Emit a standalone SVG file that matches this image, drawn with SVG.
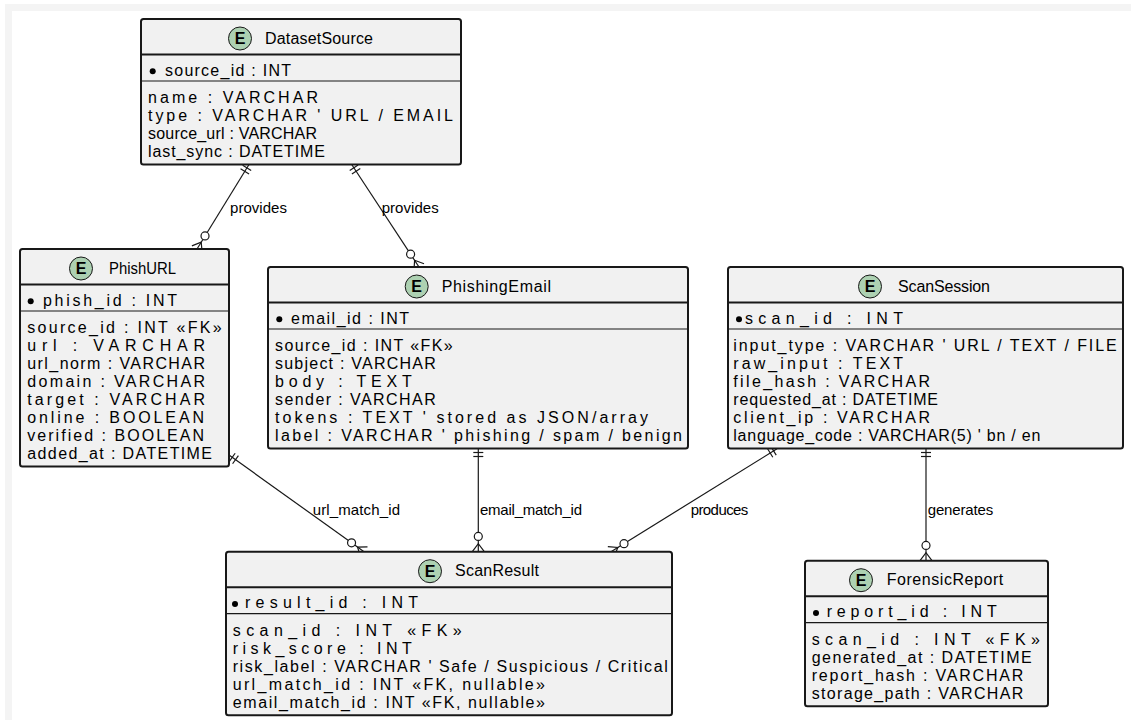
<svg xmlns="http://www.w3.org/2000/svg" width="1131" height="720" viewBox="0 0 1131 720">
<style>
.box{fill:#F1F1F1;stroke:#181818;stroke-width:2}
.div{stroke:#181818;stroke-width:2}
.div2{stroke:#181818;stroke-width:1.2}
.ic{fill:#ADD1B2;stroke:#181818;stroke-width:1}
.E{font-family:"Liberation Sans",Arial,sans-serif;font-size:16px;font-weight:bold;fill:#000;text-anchor:middle}
.t{font-family:"Liberation Sans",Arial,sans-serif;font-size:16px;fill:#000}
.lb{font-family:"Liberation Sans",Arial,sans-serif;font-size:15px;fill:#000}
.pk{fill:#000}
.ln{stroke:#181818;stroke-width:1.2;fill:none}
.cir{fill:#fff;stroke:#181818;stroke-width:1.2}
</style>
<rect x="5" y="4" width="1126" height="716" fill="#F4F4F4"/>
<rect x="12" y="11" width="1119" height="709" fill="#FFFFFF"/>

<g id="connectors">
  <!-- C1 DatasetSource -> PhishURL -->
  <line class="ln" x1="249" y1="164.5" x2="201.19" y2="242.19"/>
  <polyline class="ln" points="202.11,252.14 201.19,242.19 191.89,245.86"/>
  <line class="ln" x1="201.19" y1="242.19" x2="197" y2="249"/>
  <circle class="cir" cx="205.02" cy="235.97" r="4"/>
  <line class="ln" x1="242.64" y1="165.29" x2="251.16" y2="170.53"/>
  <line class="ln" x1="240.55" y1="168.69" x2="249.07" y2="173.93"/>
  <text class="lb" x="230" y="212.7" textLength="57" lengthAdjust="spacing">provides</text>

  <!-- C2 DatasetSource -> PhishingEmail -->
  <line class="ln" x1="351.7" y1="164.5" x2="414.61" y2="260.31"/>
  <polyline class="ln" points="424.02,263.71 414.61,260.31 413.98,270.29"/>
  <line class="ln" x1="414.61" y1="260.31" x2="419" y2="267"/>
  <circle class="cir" cx="410.6" cy="254.21" r="4"/>
  <line class="ln" x1="349.72" y1="170.58" x2="358.08" y2="165.1"/>
  <line class="ln" x1="351.91" y1="173.93" x2="360.27" y2="168.45"/>
  <text class="lb" x="381.7" y="212.7" textLength="57" lengthAdjust="spacing">provides</text>

  <!-- C3 PhishURL -> ScanResult -->
  <line class="ln" x1="229" y1="455" x2="357.5" y2="547.04"/>
  <polyline class="ln" points="367.49,546.82 357.5,547.04 360.51,556.58"/>
  <line class="ln" x1="357.5" y1="547.04" x2="364" y2="551.7"/>
  <circle class="cir" cx="351.56" cy="542.79" r="4"/>
  <line class="ln" x1="229.34" y1="461.4" x2="235.16" y2="453.26"/>
  <line class="ln" x1="232.59" y1="463.73" x2="238.41" y2="455.59"/>
  <text class="lb" x="312.7" y="515" textLength="87.3" lengthAdjust="spacing">url_match_id</text>

  <!-- C4 PhishingEmail -> ScanResult -->
  <line class="ln" x1="478.3" y1="448.5" x2="478.3" y2="551.7"/>
  <polyline class="ln" points="484.3,551.7 478.3,543.7 472.3,551.7"/>
  <circle class="cir" cx="478.3" cy="536.4" r="4"/>
  <line class="ln" x1="473.3" y1="452.5" x2="483.3" y2="452.5"/>
  <line class="ln" x1="473.3" y1="456.5" x2="483.3" y2="456.5"/>
  <text class="lb" x="480" y="515" textLength="102" lengthAdjust="spacing">email_match_id</text>

  <!-- C5 ScanSession -> ScanResult -->
  <line class="ln" x1="777" y1="448.8" x2="617.8" y2="547.48"/>
  <polyline class="ln" points="614.16,556.8 617.8,547.48 607.84,546.6"/>
  <line class="ln" x1="617.8" y1="547.48" x2="611" y2="551.7"/>
  <circle class="cir" cx="624" cy="543.64" r="4"/>
  <line class="ln" x1="770.97" y1="446.66" x2="776.23" y2="455.16"/>
  <line class="ln" x1="767.57" y1="448.77" x2="772.83" y2="457.27"/>
  <text class="lb" x="690.7" y="515" textLength="57.6" lengthAdjust="spacing">produces</text>

  <!-- C6 ScanSession -> ForensicReport -->
  <line class="ln" x1="926" y1="448.5" x2="926" y2="560.7"/>
  <polyline class="ln" points="932,560.7 926,552.7 920,560.7"/>
  <circle class="cir" cx="926" cy="545.4" r="4"/>
  <line class="ln" x1="921" y1="452.5" x2="931" y2="452.5"/>
  <line class="ln" x1="921" y1="456.5" x2="931" y2="456.5"/>
  <text class="lb" x="927.7" y="515" textLength="65.6" lengthAdjust="spacing">generates</text>
</g>

<g id="DatasetSource">
  <rect class="box" x="141" y="19" width="320" height="145.5" rx="2.5"/>
  <line class="div" x1="141" y1="54.5" x2="461" y2="54.5"/>
  <line class="div2" x1="141" y1="81" x2="461" y2="81"/>
  <circle class="ic" cx="240" cy="38.5" r="11.5"/>
  <text class="E" x="240" y="44">E</text>
  <text class="t" x="265" y="43.5" textLength="108" lengthAdjust="spacing">DatasetSource</text>
  <circle class="pk" cx="152.7" cy="71.2" r="3"/>
  <text class="t" x="165" y="75.5" textLength="126" lengthAdjust="spacing">source_id : INT</text>
  <text class="t" x="148" y="103" textLength="170" lengthAdjust="spacing">name : VARCHAR</text>
  <text class="t" x="148" y="121" textLength="305" lengthAdjust="spacing">type : VARCHAR ' URL / EMAIL</text>
  <text class="t" x="148" y="139" textLength="169" lengthAdjust="spacing">source_url : VARCHAR</text>
  <text class="t" x="148" y="157" textLength="177" lengthAdjust="spacing">last_sync : DATETIME</text>
</g>

<g id="PhishURL">
  <rect class="box" x="20" y="249" width="209" height="217.5" rx="2.5"/>
  <line class="div" x1="20" y1="284.5" x2="229" y2="284.5"/>
  <line class="div2" x1="20" y1="311" x2="229" y2="311"/>
  <circle class="ic" cx="81" cy="268.5" r="11.5"/>
  <text class="E" x="81" y="274">E</text>
  <text class="t" x="109" y="273.5" textLength="67" lengthAdjust="spacingAndGlyphs">PhishURL</text>
  <circle class="pk" cx="30.7" cy="301.2" r="3"/>
  <text class="t" x="43" y="305.5" textLength="134" lengthAdjust="spacing">phish_id : INT</text>
  <text class="t" x="27.3" y="333" textLength="194.4" lengthAdjust="spacing">source_id : INT «FK»</text>
  <text class="t" x="27.3" y="351" textLength="177.7" lengthAdjust="spacing">url : VARCHAR</text>
  <text class="t" x="27.3" y="369" textLength="177.7" lengthAdjust="spacing">url_norm : VARCHAR</text>
  <text class="t" x="27.3" y="387" textLength="177.7" lengthAdjust="spacing">domain : VARCHAR</text>
  <text class="t" x="27.3" y="405" textLength="177.7" lengthAdjust="spacing">target : VARCHAR</text>
  <text class="t" x="27.3" y="423" textLength="176.7" lengthAdjust="spacing">online : BOOLEAN</text>
  <text class="t" x="27.3" y="441" textLength="176.7" lengthAdjust="spacing">verified : BOOLEAN</text>
  <text class="t" x="27.3" y="459" textLength="184.7" lengthAdjust="spacing">added_at : DATETIME</text>
</g>

<g id="PhishingEmail">
  <rect class="box" x="268" y="267" width="420" height="181.5" rx="2.5"/>
  <line class="div" x1="268" y1="302.5" x2="688" y2="302.5"/>
  <line class="div2" x1="268" y1="329" x2="688" y2="329"/>
  <circle class="ic" cx="416.7" cy="286.5" r="11.5"/>
  <text class="E" x="416.7" y="292">E</text>
  <text class="t" x="441.7" y="291.5" textLength="109.3" lengthAdjust="spacing">PhishingEmail</text>
  <circle class="pk" cx="279.3" cy="319.2" r="3"/>
  <text class="t" x="291" y="323.5" textLength="118" lengthAdjust="spacing">email_id : INT</text>
  <text class="t" x="275" y="351" textLength="177.7" lengthAdjust="spacing">source_id : INT «FK»</text>
  <text class="t" x="275" y="369" textLength="160.7" lengthAdjust="spacing">subject : VARCHAR</text>
  <text class="t" x="275" y="387" textLength="136.7" lengthAdjust="spacing">body : TEXT</text>
  <text class="t" x="275" y="405" textLength="160.7" lengthAdjust="spacing">sender : VARCHAR</text>
  <text class="t" x="275" y="423" textLength="373" lengthAdjust="spacing">tokens : TEXT ' stored as JSON/array</text>
  <text class="t" x="275" y="441" textLength="407" lengthAdjust="spacing">label : VARCHAR ' phishing / spam / benign</text>
</g>

<g id="ScanSession">
  <rect class="box" x="728" y="267" width="395" height="181.5" rx="2.5"/>
  <line class="div" x1="728" y1="302.5" x2="1123" y2="302.5"/>
  <line class="div2" x1="728" y1="329" x2="1123" y2="329"/>
  <circle class="ic" cx="870" cy="286.5" r="11.5"/>
  <text class="E" x="870" y="292">E</text>
  <text class="t" x="898" y="291.5" textLength="92" lengthAdjust="spacing">ScanSession</text>
  <circle class="pk" cx="739" cy="319.2" r="3"/>
  <text class="t" x="745" y="323.5" textLength="158" lengthAdjust="spacing">scan_id : INT</text>
  <text class="t" x="733.3" y="351" textLength="383.4" lengthAdjust="spacing">input_type : VARCHAR ' URL / TEXT / FILE</text>
  <text class="t" x="733.3" y="369" textLength="169.7" lengthAdjust="spacing">raw_input : TEXT</text>
  <text class="t" x="733.3" y="387" textLength="196.7" lengthAdjust="spacing">file_hash : VARCHAR</text>
  <text class="t" x="733.3" y="405" textLength="204.7" lengthAdjust="spacing">requested_at : DATETIME</text>
  <text class="t" x="733.3" y="423" textLength="196.7" lengthAdjust="spacing">client_ip : VARCHAR</text>
  <text class="t" x="733.3" y="441" textLength="307" lengthAdjust="spacing">language_code : VARCHAR(5) ' bn / en</text>
</g>

<g id="ScanResult">
  <rect class="box" x="226" y="551.7" width="446" height="163.5" rx="2.5"/>
  <line class="div" x1="226" y1="587.2" x2="672" y2="587.2"/>
  <line class="div2" x1="226" y1="613.7" x2="672" y2="613.7"/>
  <circle class="ic" cx="430" cy="571.2" r="11.5"/>
  <text class="E" x="430" y="576.7">E</text>
  <text class="t" x="455" y="576.2" textLength="84" lengthAdjust="spacing">ScanResult</text>
  <circle class="pk" cx="235" cy="603.9" r="3"/>
  <text class="t" x="245" y="608.2" textLength="173" lengthAdjust="spacing">result_id : INT</text>
  <text class="t" x="232.7" y="635.7" textLength="229" lengthAdjust="spacing">scan_id : INT «FK»</text>
  <text class="t" x="232.7" y="653.7" textLength="179" lengthAdjust="spacing">risk_score : INT</text>
  <text class="t" x="232.7" y="671.7" textLength="435" lengthAdjust="spacing">risk_label : VARCHAR ' Safe / Suspicious / Critical</text>
  <text class="t" x="232.7" y="689.7" textLength="312.3" lengthAdjust="spacing">url_match_id : INT «FK, nullable»</text>
  <text class="t" x="232.7" y="707.7" textLength="312.3" lengthAdjust="spacing">email_match_id : INT «FK, nullable»</text>
</g>

<g id="ForensicReport">
  <rect class="box" x="805" y="560.7" width="243" height="145.5" rx="2.5"/>
  <line class="div" x1="805" y1="596.2" x2="1048" y2="596.2"/>
  <line class="div2" x1="805" y1="622.7" x2="1048" y2="622.7"/>
  <circle class="ic" cx="861" cy="580.2" r="11.5"/>
  <text class="E" x="861" y="585.7">E</text>
  <text class="t" x="886.7" y="585.2" textLength="116.6" lengthAdjust="spacing">ForensicReport</text>
  <circle class="pk" cx="816" cy="612.9" r="3"/>
  <text class="t" x="826.7" y="617.2" textLength="170" lengthAdjust="spacing">report_id : INT</text>
  <text class="t" x="811.7" y="644.7" textLength="228.3" lengthAdjust="spacing">scan_id : INT «FK»</text>
  <text class="t" x="811.7" y="662.7" textLength="220" lengthAdjust="spacing">generated_at : DATETIME</text>
  <text class="t" x="811.7" y="680.7" textLength="211.6" lengthAdjust="spacing">report_hash : VARCHAR</text>
  <text class="t" x="811.7" y="698.7" textLength="211.6" lengthAdjust="spacing">storage_path : VARCHAR</text>
</g>
</svg>
